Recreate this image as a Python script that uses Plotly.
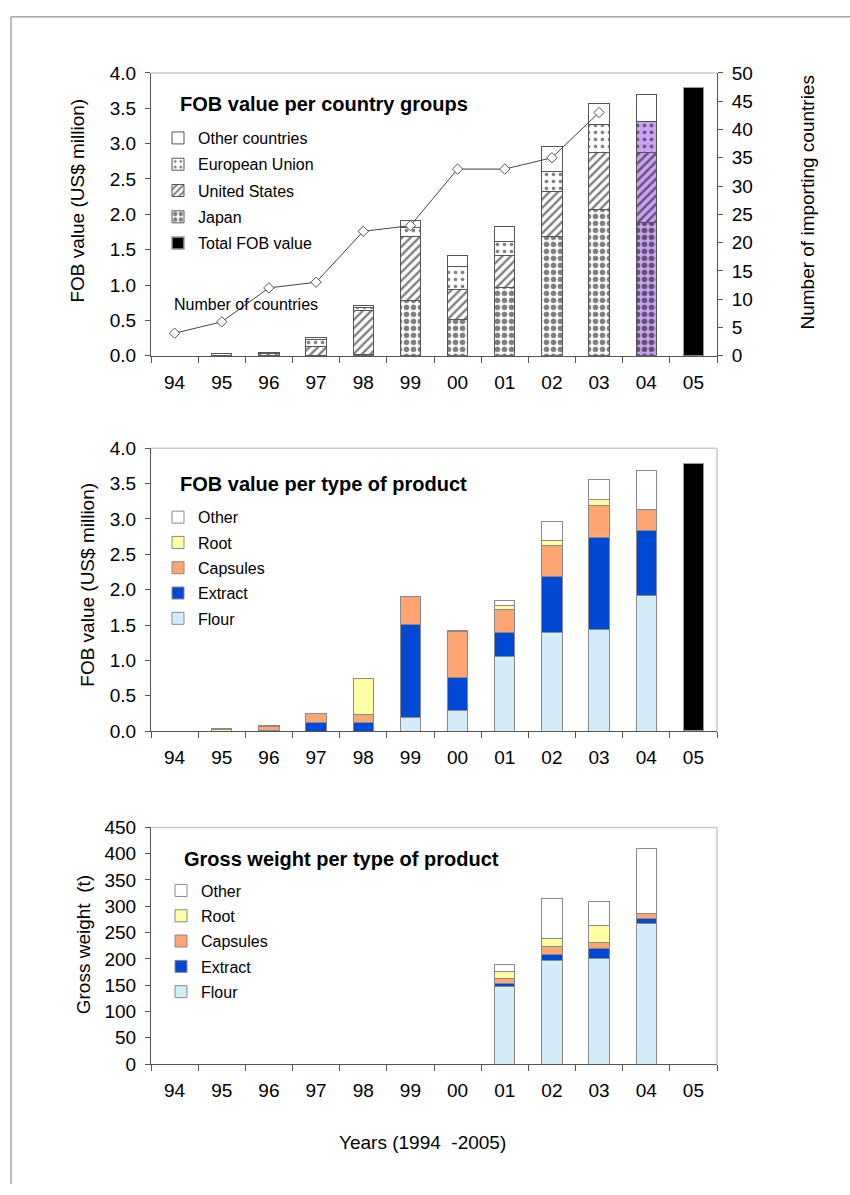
import plotly.graph_objects as go

W, H = 850, 1195
FONT = "Liberation Sans, Arial, sans-serif"

years = ["94", "95", "96", "97", "98", "99", "00", "01", "02", "03", "04", "05"]

# FOB value per country group (US$ million)
fob_japan = [None, None, 0.01, 0.01, 0.02, 0.785, 0.51, 0.96, 1.69, 2.07, 1.88, None]
fob_us = [None, 0.01, 0.02, 0.12, 0.62, 0.905, 0.43, 0.46, 0.64, 0.80, 0.99, None]
fob_eu = [None, None, 0.01, 0.10, 0.04, 0.12, 0.32, 0.20, 0.28, 0.40, 0.44, None]
fob_other = [None, 0.02, 0.01, 0.03, 0.03, 0.10, 0.16, 0.21, 0.35, 0.30, 0.39, None]
fob_total = [None] * 11 + [3.79]
n_countries = [4, 6, 12, 13, 22, 23, 33, 33, 35, 43, None, None]

# FOB value per type of product (US$ million)
fob_flour = [None, None, None, None, None, 0.19, 0.29, 1.06, 1.40, 1.43, 1.92, None]
fob_extract = [None, None, 0.01, 0.125, 0.125, 1.32, 0.47, 0.34, 0.79, 1.30, 0.91, None]
fob_capsules = [None, None, 0.05, 0.125, 0.105, 0.39, 0.65, 0.32, 0.43, 0.46, 0.30, None]
fob_root = [None, 0.02, None, None, 0.51, None, None, 0.05, 0.07, 0.09, None, None]
fob_other_prod = [None, 0.01, 0.02, None, None, None, 0.01, 0.07, 0.27, 0.28, 0.55, None]
fob_total_prod = [None] * 11 + [3.78]

# Gross weight per type of product (t)
wt_flour = [None] * 7 + [147, 197, 201, 267, None]
wt_extract = [None] * 7 + [7, 11, 19, 9, None]
wt_capsules = [None] * 7 + [9, 15, 11, 11, None]
wt_root = [None] * 7 + [13, 15, 33, None, None]
wt_other = [None] * 7 + [13, 76, 46, 122, None]

C_FLOUR = "#d3ecf8"
C_EXTRACT = "#0049d4"
C_CAPS = "#ffa574"
C_ROOT = "#ffffa6"
C_OTHER = "#ffffff"
C_PURPLE = "#c9a3f2"

# pixel helpers for paper coordinates
def px(x):
    return x / W

def py(y):
    return 1 - y / H

X0, X1 = px(151), px(717)
TOP_DOM = [py(352), py(64)]
MID_DOM = [py(734), py(446)]
BOT_DOM = [py(1073), py(832)]

fig = go.Figure()

# --- country-group chart ---
bg_04 = ["white"] * 10 + [C_PURPLE, "white"]
top_line = dict(color="#555", width=1)

fig.add_bar(x=years, y=fob_japan, name="Japan", xaxis="x", yaxis="y",
            legend="legend", legendgroup="jp", legendrank=4,
            marker=dict(color="white", line=top_line,
                        pattern=dict(shape=".", fgcolor="black", bgcolor=bg_04,
                                     size=7, solidity=0.5, fillmode="overlay")))
fig.add_bar(x=years, y=fob_us, name="United States", xaxis="x", yaxis="y",
            legend="legend", legendgroup="us", legendrank=3,
            marker=dict(color="white", line=top_line,
                        pattern=dict(shape="/", fgcolor="black", bgcolor=bg_04,
                                     size=6, solidity=0.4, fillmode="overlay")))
fig.add_bar(x=years, y=fob_eu, name="European Union", xaxis="x", yaxis="y",
            legend="legend", legendgroup="eu", legendrank=2,
            marker=dict(color="white", line=top_line,
                        pattern=dict(shape=".", fgcolor="black", bgcolor=bg_04,
                                     size=7, solidity=0.22, fillmode="overlay")))
fig.add_bar(x=years, y=fob_other, name="Other countries", xaxis="x", yaxis="y",
            legend="legend", legendgroup="oc", legendrank=1,
            marker=dict(color=C_OTHER, line=top_line))
fig.add_bar(x=years, y=fob_total, name="Total FOB value", xaxis="x", yaxis="y",
            legend="legend", legendgroup="tot", legendrank=5,
            marker=dict(color="black", line=dict(color="#999", width=1.5)))
fig.add_scatter(x=years, y=n_countries, xaxis="x", yaxis="y2", mode="lines+markers",
                name="Number of countries", showlegend=False,
                line=dict(color="#444", width=1),
                marker=dict(symbol="diamond", size=8, color="white",
                            line=dict(color="#555", width=1)))

# --- product charts ---
prod_line = dict(color="#8a8a8a", width=1)

def product_bars(values, xa, ya, leg, show):
    specs = [
        ("Flour", C_FLOUR, 5),
        ("Extract", C_EXTRACT, 4),
        ("Capsules", C_CAPS, 3),
        ("Root", C_ROOT, 2),
        ("Other", C_OTHER, 1),
    ]
    for (name, color, rank), vals in zip(specs, values):
        fig.add_bar(x=years, y=vals, name=name, xaxis=xa, yaxis=ya,
                    legend=leg, legendgroup=leg + name, legendrank=rank,
                    showlegend=show,
                    marker=dict(color=color, line=prod_line))

product_bars([fob_flour, fob_extract, fob_capsules, fob_root, fob_other_prod],
             "x2", "y3", "legend2", True)
fig.add_bar(x=years, y=fob_total_prod, name="Total FOB value", xaxis="x2", yaxis="y3",
            showlegend=False,
            marker=dict(color="black", line=dict(color="#999", width=1.5)))
product_bars([wt_flour, wt_extract, wt_capsules, wt_root, wt_other],
             "x3", "y4", "legend3", True)

# --- axes ---
xcommon = dict(type="category", range=[-0.5, 11.5], domain=[X0, X1],
               showline=True, linecolor="#555", linewidth=1,
               ticks="outside", tickson="boundaries", ticklen=6, tickcolor="#555",
               tickfont=dict(size=19, color="black", family=FONT),
               ticklabelstandoff=9, showgrid=False, zeroline=False)
ycommon = dict(showline=True, linecolor="#555", linewidth=1,
               ticks="outside", ticklen=5, tickcolor="#555",
               tickfont=dict(size=19, color="black", family=FONT),
               ticklabelstandoff=5, showgrid=False, zeroline=False)

layout_axes = dict(
    xaxis=dict(xcommon, anchor="y"),
    yaxis=dict(ycommon, domain=TOP_DOM, anchor="x", range=[0, 4], dtick=0.5,
               tickformat=".1f"),
    yaxis2=dict(ycommon, overlaying="y", side="right", anchor="x",
                range=[0, 50], dtick=5),
    xaxis2=dict(xcommon, anchor="y3"),
    yaxis3=dict(ycommon, domain=MID_DOM, anchor="x2", range=[0, 4], dtick=0.5,
                tickformat=".1f"),
    xaxis3=dict(xcommon, anchor="y4"),
    yaxis4=dict(ycommon, domain=BOT_DOM, anchor="x3", range=[0, 450], dtick=50),
)

legend_common = dict(font=dict(size=16, color="black", family=FONT),
                     bgcolor="rgba(0,0,0,0)", borderwidth=0,
                     traceorder="grouped",
                     xanchor="left", yanchor="top", itemclick=False)

shapes = []
# light frame on top / right of each plot area
for xd, yd, right in (("x", "y", False), ("x2", "y3", True), ("x3", "y4", True)):
    shapes.append(dict(type="line", xref=f"{xd} domain", yref=f"{yd} domain",
                       x0=0, x1=1, y0=1, y1=1, line=dict(color="#c8c8c8", width=1.5)))
    if right:
        shapes.append(dict(type="line", xref=f"{xd} domain", yref=f"{yd} domain",
                           x0=1, x1=1, y0=0, y1=1, line=dict(color="#c8c8c8", width=1.5)))
# page border
shapes.append(dict(type="line", xref="paper", yref="paper", x0=px(11), x1=1,
                   y0=py(7), y1=py(7), line=dict(color="#777", width=1)))
shapes.append(dict(type="line", xref="paper", yref="paper", x0=px(11), x1=px(11),
                   y0=py(7), y1=0, line=dict(color="#777", width=1)))

def note(text, x, y, size=19, angle=0, xanchor="center", bold=False):
    return dict(text=f"<b>{text}</b>" if bold else text, x=px(x), y=py(y),
                xref="paper", yref="paper", showarrow=False, textangle=angle,
                xanchor=xanchor, yanchor="middle",
                font=dict(size=size, color="black", family=FONT))

annotations = [
    note("FOB value per country groups", 178, 96, size=20, xanchor="left", bold=True),
    note("FOB value per type of product", 178, 482, size=20, xanchor="left", bold=True),
    note("Gross weight per type of product", 182, 864, size=20, xanchor="left", bold=True),
    note("Number of countries", 172, 300, size=16, xanchor="left"),
    note("FOB value (US$ million)", 78, 194, angle=-90),
    note("Number of importing countries", 808, 196, angle=-90),
    note("FOB value (US$ million)", 88, 585, angle=-90),
    note("Gross weight  (t)", 83, 952, angle=-90),
    note("Years (1994  -2005)", 422, 1153),
]

fig.update_layout(
    width=W, height=H, margin=dict(l=0, r=0, t=0, b=0),
    paper_bgcolor="white", plot_bgcolor="white",
    barmode="stack", bargap=0.57,
    font=dict(family=FONT, color="black"),
    legend=dict(legend_common, x=px(158), y=py(113), tracegroupgap=2.5),
    legend2=dict(legend_common, x=px(158), y=py(499), tracegroupgap=1.5),
    legend3=dict(legend_common, x=px(161), y=py(879), tracegroupgap=1.5),
    shapes=shapes, annotations=annotations,
    **layout_axes,
)

fig.write_html("out.html")
